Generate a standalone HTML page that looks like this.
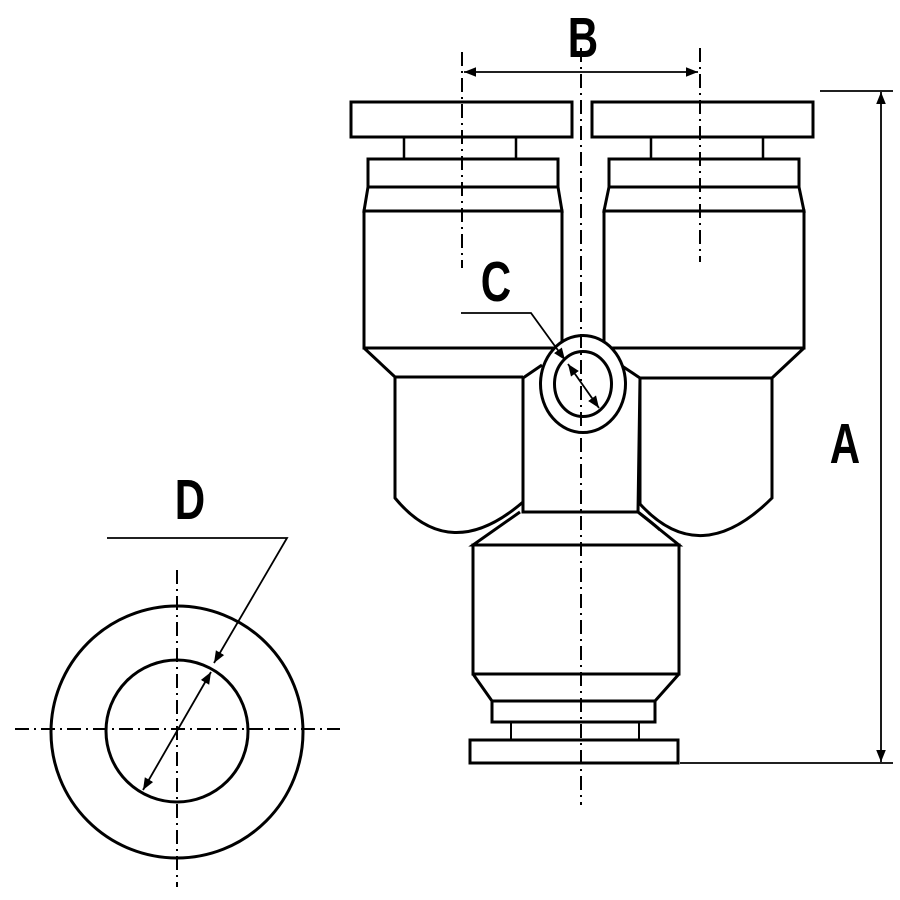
<!DOCTYPE html>
<html><head><style>body{margin:0;background:#fff}svg{display:block}
text{font-family:"Liberation Sans",sans-serif;font-weight:bold;fill:#000}</style></head>
<body>
<svg width="900" height="900" viewBox="0 0 900 900" xmlns="http://www.w3.org/2000/svg">
<defs>
<marker id="ar" viewBox="0 0 10 10" refX="10" refY="5" markerWidth="12" markerHeight="12" markerUnits="userSpaceOnUse" orient="auto-start-reverse"><path d="M0,1 L10,5 L0,9 Z" fill="#000"/></marker>
</defs>
<rect width="900" height="900" fill="#fff"/>
<g fill="none" stroke="#000" stroke-width="3" stroke-linejoin="miter">
<rect x="351" y="102" width="221" height="35"/>
<rect x="592" y="102" width="221" height="35"/>
<rect x="404" y="137" width="112" height="22" stroke-width="2.5"/>
<rect x="651" y="137" width="112" height="22" stroke-width="2.5"/>
<rect x="368" y="159" width="190" height="28"/>
<rect x="609" y="159" width="190" height="28"/>
<path d="M368,187 L364,211 L562,211 L558,187"/>
<path d="M609,187 L604,211 L804,211 L799,187"/>
<rect x="364" y="211" width="198" height="137"/>
<rect x="604" y="211" width="200" height="137"/>
<path d="M364,348 L395,377 L523,377"/>
<path d="M804,348 L772,378 L640,378"/>
<path d="M395,377 L395,498 Q450,565 523,502 L523,377"/>
<path d="M640,378 L640,504 Q700,570 772,498 L772,378"/>
<path d="M523,378 L542,365"/>
<path d="M640,378 L622,366"/>
<path d="M523,377 L523,512 L638,512 L640,378"/>
<path d="M638,512 Q655,525 660,530"/>
<ellipse cx="583" cy="384" rx="42.5" ry="48.5" fill="#fff"/>
<ellipse cx="583" cy="384" rx="28.5" ry="32.5"/>
<path d="M520,512 L473,545 L679,545 L638,512"/>
<rect x="473" y="545" width="206" height="129"/>
<path d="M473,674 L492,701 L655,701 L679,674"/>
<rect x="492" y="701" width="163" height="21"/>
<rect x="511" y="722" width="128" height="18" stroke-width="2"/>
<rect x="470" y="740" width="208" height="23"/>
<circle cx="177" cy="732" r="126"/>
<circle cx="177" cy="731" r="71"/>
</g>
<g fill="none" stroke="#000" stroke-width="2" stroke-dasharray="14,5,2,5">
<line x1="581" y1="48" x2="581" y2="805"/>
<line x1="462" y1="52" x2="462" y2="268"/>
<line x1="700" y1="48" x2="700" y2="262"/>
<line x1="15" y1="729" x2="340" y2="729"/>
<line x1="177" y1="570" x2="177" y2="887"/>
</g>
<g fill="none" stroke="#000" stroke-width="1.8">
<line x1="464" y1="72" x2="698" y2="72" marker-start="url(#ar)" marker-end="url(#ar)"/>
<line x1="881" y1="92" x2="881" y2="762" marker-start="url(#ar)" marker-end="url(#ar)"/>
<line x1="820" y1="91" x2="893" y2="91"/>
<line x1="680" y1="763" x2="893" y2="763"/>
<path d="M461,313 L531,313 L565,360" marker-end="url(#ar)"/>
<line x1="568" y1="364" x2="599" y2="408" marker-start="url(#ar)" marker-end="url(#ar)"/>
<path d="M107,538 L287,538 L214,663" marker-end="url(#ar)"/>
<line x1="211" y1="672" x2="143" y2="790" marker-start="url(#ar)" marker-end="url(#ar)"/>
</g>
<text font-size="54" text-anchor="middle" transform="translate(583,57) scale(0.78,1.05)">B</text>
<text font-size="54" text-anchor="middle" transform="translate(496,301) scale(0.78,1.05)">C</text>
<text font-size="54" text-anchor="middle" transform="translate(845,463) scale(0.78,1.05)">A</text>
<text font-size="54" text-anchor="middle" transform="translate(190,519) scale(0.78,1.05)">D</text>
</svg>
</body></html>
